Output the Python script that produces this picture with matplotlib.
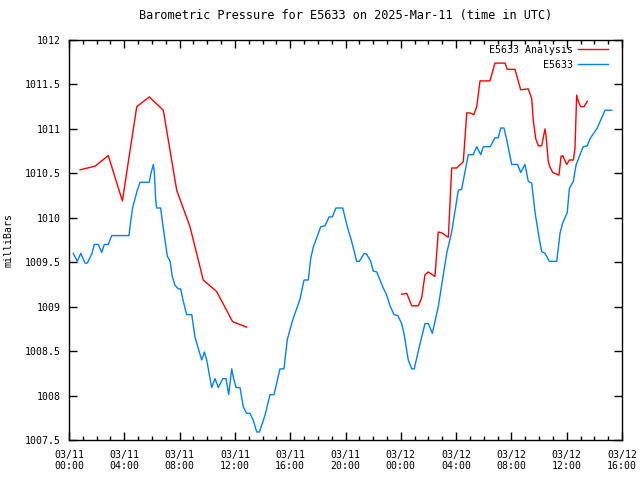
import matplotlib
matplotlib.use("Agg")
import matplotlib.pyplot as plt
from matplotlib.ticker import MultipleLocator

plt.rcParams['font.family'] = ['DejaVu Sans Mono']
plt.rcParams['font.size'] = 7.1

# hours since 2025-03-11 00:00 UTC
blue_t = [0.31, 0.60, 0.85, 1.16, 1.32, 1.64, 1.83, 2.12, 2.37, 2.55, 2.84, 3.09, 4.34, 4.46,
          4.61, 4.94, 5.14, 5.81, 5.91, 6.10, 6.17, 6.27, 6.34, 6.63, 6.75, 6.94, 7.11, 7.31,
          7.47, 7.67, 7.91, 8.08, 8.22, 8.51, 8.88, 9.11, 9.35, 9.60, 9.79, 9.96, 10.32, 10.56,
          10.80, 11.12, 11.36, 11.55, 11.77, 11.88, 12.08, 12.37, 12.61, 12.85, 13.09, 13.33,
          13.58, 13.77, 14.18, 14.54, 14.83, 15.26, 15.55, 15.79, 16.18, 16.70, 17.00, 17.31,
          17.48, 17.67, 18.21, 18.52, 18.81, 19.05, 19.31, 19.80, 20.13, 20.45, 20.81, 21.00,
          21.36, 21.53, 21.82, 22.01, 22.26, 22.73, 22.98, 23.22, 23.51, 23.78, 24.06, 24.23,
          24.54, 24.79, 24.97, 25.34, 25.75, 25.99, 26.28, 26.71, 27.32, 27.68, 28.16, 28.40,
          28.88, 29.24, 29.49, 29.78, 29.97, 30.47, 30.81, 31.05, 31.23, 31.46, 31.66, 32.02,
          32.45, 32.67, 32.98, 33.22, 33.47, 33.71, 34.02, 34.19, 34.43, 34.74, 35.28, 35.52,
          35.71, 36.04, 36.19, 36.48, 36.67, 36.96, 37.20, 37.49, 37.69, 38.21, 38.77, 39.25]
blue_v = [1009.60, 1009.51, 1009.60, 1009.49, 1009.49, 1009.59, 1009.70, 1009.70, 1009.61,
          1009.70, 1009.70, 1009.80, 1009.80, 1009.96, 1010.12, 1010.31, 1010.40, 1010.40,
          1010.49, 1010.60, 1010.52, 1010.20, 1010.11, 1010.11, 1009.96, 1009.75, 1009.57,
          1009.51, 1009.34, 1009.24, 1009.20, 1009.20, 1009.09, 1008.91, 1008.91, 1008.66,
          1008.53, 1008.40, 1008.49, 1008.40, 1008.09, 1008.19, 1008.09, 1008.19, 1008.19,
          1008.01, 1008.30, 1008.21, 1008.09, 1008.09, 1007.87, 1007.80, 1007.80, 1007.72,
          1007.59, 1007.59, 1007.78, 1008.01, 1008.01, 1008.30, 1008.30, 1008.63, 1008.85,
          1009.08, 1009.30, 1009.30, 1009.54, 1009.67, 1009.90, 1009.91, 1010.01, 1010.01,
          1010.11, 1010.11, 1009.90, 1009.73, 1009.51, 1009.51, 1009.60, 1009.59, 1009.51,
          1009.40, 1009.39, 1009.21, 1009.13, 1009.01, 1008.91, 1008.90, 1008.81, 1008.70,
          1008.40, 1008.30, 1008.30, 1008.55, 1008.81, 1008.81, 1008.70, 1009.00, 1009.60,
          1009.84, 1010.31, 1010.32, 1010.71, 1010.71, 1010.80, 1010.71, 1010.80, 1010.80,
          1010.90, 1010.90, 1011.01, 1011.01, 1010.88, 1010.60, 1010.60, 1010.51, 1010.60,
          1010.41, 1010.39, 1010.06, 1009.76, 1009.62, 1009.60, 1009.51, 1009.51, 1009.83,
          1009.94, 1010.06, 1010.33, 1010.41, 1010.59, 1010.71, 1010.80, 1010.81, 1010.89,
          1011.01, 1011.21, 1011.21]

# analysis: two pieces with a gap in between
red1_t = [0.80, 1.88, 2.84, 3.86, 4.90, 5.81, 6.82, 7.79, 8.75, 9.71, 10.68, 11.84, 12.85]
red1_v = [1010.54, 1010.58, 1010.70, 1010.19, 1011.25, 1011.36, 1011.21, 1010.31, 1009.90,
          1009.30, 1009.17, 1008.83, 1008.77]
red2_t = [24.06, 24.43, 24.79, 25.27, 25.51, 25.75, 25.99, 26.47, 26.71, 26.96, 27.44, 27.68,
          28.04, 28.52, 28.77, 29.00, 29.29, 29.49, 29.73, 30.45, 30.81, 31.54, 31.70, 32.26,
          32.67, 33.22, 33.47, 33.58, 33.76, 33.95, 34.19, 34.43, 34.50, 34.67, 34.79, 34.99,
          35.44, 35.59, 35.71, 36.00, 36.19, 36.48, 36.60, 36.72, 36.84, 37.01, 37.25, 37.49]
red2_v = [1009.14, 1009.15, 1009.01, 1009.01, 1009.10, 1009.36, 1009.39, 1009.34, 1009.84,
          1009.83, 1009.78, 1010.56, 1010.56, 1010.63, 1011.18, 1011.18, 1011.16, 1011.25,
          1011.54, 1011.54, 1011.74, 1011.74, 1011.67, 1011.67, 1011.44, 1011.45, 1011.34,
          1011.10, 1010.89, 1010.81, 1010.81, 1011.00, 1010.93, 1010.63, 1010.57, 1010.51,
          1010.48, 1010.69, 1010.70, 1010.60, 1010.65, 1010.65, 1010.78, 1011.38, 1011.31,
          1011.25, 1011.25, 1011.31]

tick_hours = list(range(0, 41, 4))
tick_labels = ["03/11\n00:00", "03/11\n04:00", "03/11\n08:00", "03/11\n12:00", "03/11\n16:00",
               "03/11\n20:00", "03/12\n00:00", "03/12\n04:00", "03/12\n08:00", "03/12\n12:00",
               "03/12\n16:00"]

fig = plt.figure(figsize=(6.4, 4.8), dpi=100)
ax = fig.add_axes([69/640, 40/480, 553/640, 400/480])

ax.plot(red1_t, red1_v, color='#ff0000', lw=1, label='E5633 Analysis')
ax.plot(red2_t, red2_v, color='#ff0000', lw=1)
ax.plot(blue_t, blue_v, color='#0080ff', lw=1, label='E5633')

ax.set_xlim(0, 40)
ax.set_ylim(1007.5, 1012)
ax.set_xticks(tick_hours)
ax.set_xticklabels(tick_labels)
ax.xaxis.set_minor_locator(MultipleLocator(1))
ax.yaxis.set_major_locator(MultipleLocator(0.5))
ax.yaxis.set_major_formatter(plt.FuncFormatter(lambda v, p: f"{v:g}"))
ax.tick_params(which='both', direction='in', top=True, right=True, width=1)
ax.tick_params(axis='x', pad=7)
ax.tick_params(axis='y', pad=6)
ax.tick_params(which='major', length=6)
ax.tick_params(which='minor', length=3)
for s in ax.spines.values():
    s.set_linewidth(1)

ax.set_title("Barometric Pressure for E5633 on 2025-Mar-11 (time in UTC)", pad=15)
ax.set_ylabel("milliBars", labelpad=8)

leg = ax.legend(loc='upper right', bbox_to_anchor=(1 - 10/553, 1 - 1/400), borderaxespad=0,
                frameon=False, markerfirst=False, handlelength=3.0,
                labelspacing=0.5, handletextpad=0.6)

fig.savefig("out.png", dpi=100)
